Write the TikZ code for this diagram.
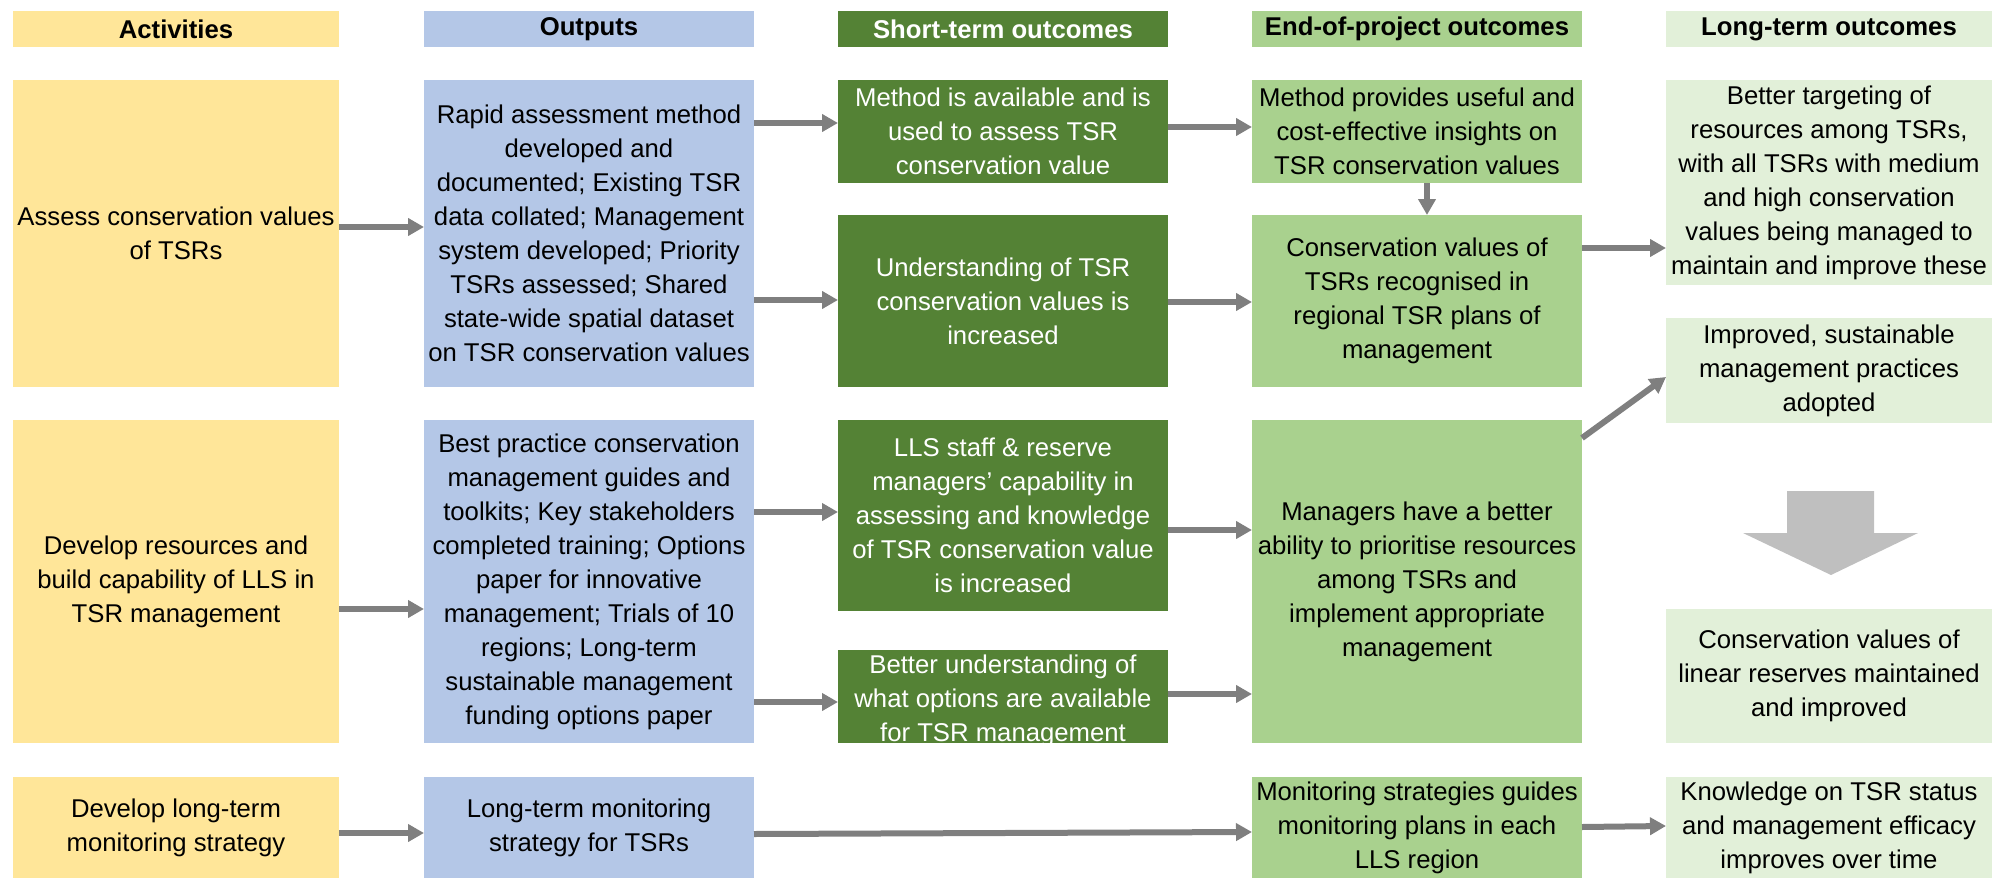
\documentclass[tikz,border=0pt]{standalone}
\usepackage{fontspec}
\setmainfont{Liberation Sans}
\usetikzlibrary{arrows.meta}
\definecolor{actc}{HTML}{FFE699}
\definecolor{outc}{HTML}{B4C7E7}
\definecolor{stc}{HTML}{548235}
\definecolor{eopc}{HTML}{A9D18E}
\definecolor{ltc}{HTML}{E2F0D9}
\definecolor{conc}{HTML}{7F7F7F}
\definecolor{bigc}{HTML}{BFBFBF}
\newcommand\bx[7]{%
  \pgfmathsetmacro\bxw{(#5-#3)*0.5}%
  \pgfmathsetmacro\bxh{(#6-#4)*0.5}%
  \node[#2,minimum width=\bxw pt,minimum height=\bxh pt] (#1) at ({(#3+#5)/2},{(#4+#6)/2}) {#7};}
\tikzset{
  box/.style={inner sep=0pt, outer sep=0pt, align=center, text=black,
    font=\fontsize{12.85}{17}\selectfont},
  hdr/.style={box, font=\fontsize{12.85}{17}\selectfont\bfseries},
  actb/.style={fill=actc},
  outb/.style={fill=outc},
  stb/.style={fill=stc, text=white},
  eopb/.style={fill=eopc},
  ltb/.style={fill=ltc},
  conn/.style={draw=conc, line width=3pt, -{Triangle[length=8pt,width=8.5pt]}},
}
\begin{document}
\begin{tikzpicture}[x=0.5pt,y=-0.5pt]
\useasboundingbox (0,0) rectangle (1992,878);
% headers
\bx{hact}{hdr,actb}{13}{11}{339}{47}{Activities}
\bx{hout}{hdr,outb}{424}{11}{754}{47}{Outputs}
\bx{hst}{hdr,stb}{838}{11}{1168}{47}{Short-term outcomes}
\bx{heop}{hdr,eopb}{1252}{11}{1582}{47}{End-of-project outcomes}
\bx{hlt}{hdr,ltb}{1666}{11}{1992}{47}{Long-term outcomes}
% row 1
\bx{act1}{box,actb}{13}{80}{339}{387}{Assess conservation values\\of TSRs}
\bx{out1}{box,outb}{424}{80}{754}{387}{Rapid assessment method\\developed and\\documented; Existing TSR\\data collated; Management\\system developed; Priority\\TSRs assessed; Shared\\state-wide spatial dataset\\on TSR conservation values}
\bx{st1}{box,stb}{838}{80}{1168}{183}{Method is available and is\\used to assess TSR\\conservation value}
\bx{st2}{box,stb}{838}{215}{1168}{387}{Understanding of TSR\\conservation values is\\increased}
\bx{eop1}{box,eopb}{1252}{80}{1582}{183}{Method provides useful and\\cost-effective insights on\\TSR conservation values}
\bx{eop2}{box,eopb}{1252}{215}{1582}{387}{Conservation values of\\TSRs recognised in\\regional TSR plans of\\management}
\bx{lt1}{box,ltb}{1666}{80}{1992}{285}{Better targeting of\\resources among TSRs,\\with all TSRs with medium\\and high conservation\\values being managed to\\maintain and improve these}
\bx{lt2}{box,ltb}{1666}{318}{1992}{423}{Improved, sustainable\\management practices\\adopted}
% row 2
\bx{act2}{box,actb}{13}{420}{339}{743}{Develop resources and\\build capability of LLS in\\TSR management}
\bx{out2}{box,outb}{424}{420}{754}{743}{Best practice conservation\\management guides and\\toolkits; Key stakeholders\\completed training; Options\\paper for innovative\\management; Trials of 10\\regions; Long-term\\sustainable management\\funding options paper}
\bx{st3}{box,stb}{838}{420}{1168}{611}{LLS staff \& reserve\\managers’ capability in\\assessing and knowledge\\of TSR conservation value\\is increased}
\begin{scope}
\clip (838,650) rectangle (1168,743);
\bx{st4}{box,stb}{838}{650}{1168}{743}{}
\node[box, text=white] (st4t) at ([yshift=-2pt]st4.center) {Better understanding of\\what options are available\\for TSR management};
\end{scope}
\bx{eop3}{box,eopb}{1252}{420}{1582}{743}{Managers have a better\\ability to prioritise resources\\among TSRs and\\implement appropriate\\management}
\bx{lt3}{box,ltb}{1666}{609}{1992}{743}{Conservation values of\\linear reserves maintained\\and improved}
% row 3
\bx{act3}{box,actb}{13}{777}{339}{878}{Develop long-term\\monitoring strategy}
\bx{out3}{box,outb}{424}{777}{754}{878}{Long-term monitoring\\strategy for TSRs}
\bx{eop4}{box,eopb}{1252}{777}{1582}{878}{Monitoring strategies guides\\monitoring plans in each\\LLS region}
\bx{lt4}{box,ltb}{1666}{777}{1992}{878}{Knowledge on TSR status\\and management efficacy\\improves over time}
% big arrow
\fill[bigc] (1787,491) -- (1874,491) -- (1874,533) -- (1918,533) -- (1831,575) -- (1743,533) -- (1787,533) -- cycle;
% connectors
\draw[conn] (act1.east |- 0,227) -- (out1.west |- 0,227);
\draw[conn] (out1.east |- 0,123) -- (st1.west |- 0,123);
\draw[conn] (out1.east |- 0,300) -- (st2.west |- 0,300);
\draw[conn] (st1.east |- 0,127) -- (eop1.west |- 0,127);
\draw[conn] (st2.east |- 0,302) -- (eop2.west |- 0,302);
\draw[conn] (eop1.south -| 1427,0) -- (eop2.north -| 1427,0);
\draw[conn] (eop2.east |- 0,248) -- (lt1.west |- 0,248);
\draw[conn] (eop3.east |- 0,438) -- (lt2.west |- 0,377);
\draw[conn] (act2.east |- 0,609) -- (out2.west |- 0,609);
\draw[conn] (out2.east |- 0,512) -- (st3.west |- 0,512);
\draw[conn] (out2.east |- 0,702) -- (st4.west |- 0,702);
\draw[conn] (st3.east |- 0,530) -- (eop3.west |- 0,530);
\draw[conn] (st4.east |- 0,694) -- (eop3.west |- 0,694);
\draw[conn] (act3.east |- 0,833) -- (out3.west |- 0,833);
\draw[conn] (out3.east |- 0,834) -- (eop4.west |- 0,832);
\draw[conn] (eop4.east |- 0,827) -- (lt4.west |- 0,826);
\end{tikzpicture}
\end{document}
